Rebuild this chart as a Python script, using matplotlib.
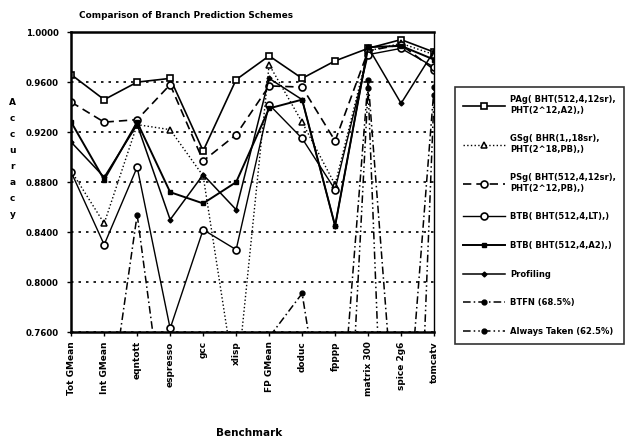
import matplotlib
matplotlib.use("Agg")
import matplotlib.pyplot as plt

# benchmarks along the x axis
benchmarks = ["Tot GMean", "Int GMean", "eqntott", "espresso", "gcc", "xlisp",
              "FP GMean", "doduc", "fpppp", "matrix 300", "spice 2g6", "tomcatv"]

# accuracy of each scheme (values below 0.76 are cut off by the axis)
pag = [0.966, 0.946, 0.960, 0.963, 0.905, 0.962, 0.981, 0.963, 0.977, 0.987, 0.994, 0.984]
gsg = [0.889, 0.847, 0.926, 0.922, 0.885, 0.715, 0.974, 0.928, 0.878, 0.985, 0.991, 0.982]
psg = [0.944, 0.928, 0.930, 0.958, 0.897, 0.918, 0.957, 0.956, 0.913, 0.985, 0.990, 0.970]
btb_lt = [0.888, 0.830, 0.892, 0.763, 0.842, 0.826, 0.942, 0.915, 0.874, 0.982, 0.987, 0.972]
btb_a2 = [0.928, 0.882, 0.928, 0.872, 0.863, 0.880, 0.939, 0.946, 0.845, 0.988, 0.989, 0.978]
profiling = [0.912, 0.884, 0.926, 0.850, 0.886, 0.858, 0.963, 0.946, 0.845, 0.988, 0.943, 0.985]
btfn = [0.685, 0.670, 0.854, 0.655, 0.620, 0.600, 0.756, 0.791, 0.627, 0.962, 0.620, 0.956]
always_taken = [0.625, 0.600, 0.600, 0.550, 0.600, 0.600, 0.600, 0.600, 0.450, 0.955, 0.280, 0.950]

labels = ["PAg( BHT(512,4,12sr),\nPHT(2^12,A2),)",
          "GSg( BHR(1,,18sr),\nPHT(2^18,PB),)",
          "PSg( BHT(512,4,12sr),\nPHT(2^12,PB),)",
          "BTB( BHT(512,4,LT),)",
          "BTB( BHT(512,4,A2),)",
          "Profiling",
          "BTFN (68.5%)",
          "Always Taken (62.5%)"]

yticks = [0.76, 0.80, 0.84, 0.88, 0.92, 0.96, 1.00]

fig = plt.figure(figsize=(6.3, 4.4), dpi=100)
ax = fig.add_axes([0.113, 0.245, 0.576, 0.682])

x = list(range(len(benchmarks)))
ax.plot(x, pag, color="black", lw=1.2, ls="-", marker="s", ms=5, mfc="white", mew=1.2, label=labels[0])
ax.plot(x, gsg, color="black", lw=1.0, ls=":", marker="^", ms=5, mfc="white", mew=1.1, label=labels[1])
ax.plot(x, psg, color="black", lw=1.2, ls=(0, (5, 3)), marker="o", ms=5, mfc="white", mew=1.2, label=labels[2])
ax.plot(x, btb_lt, color="black", lw=1.0, ls="-", marker="o", ms=5, mfc="white", mew=1.2, label=labels[3])
ax.plot(x, btb_a2, color="black", lw=1.4, ls="-", marker="s", ms=3.5, mfc="black", label=labels[4])
ax.plot(x, profiling, color="black", lw=1.1, ls="-", marker="D", ms=2.5, mfc="black", label=labels[5])
ax.plot(x, btfn, color="black", lw=1.1, ls=(0, (5, 2, 1, 2)), marker="o", ms=3.5, mfc="black", label=labels[6])
ax.plot(x, always_taken, color="black", lw=1.1, ls=(0, (5, 2, 1, 2, 1, 2)), marker="o", ms=3.5, mfc="black", label=labels[7])

ax.set_xlim(0, len(benchmarks) - 1)
ax.set_ylim(0.76, 1.0)
ax.set_yticks(yticks)
ax.set_yticklabels(["%.4f" % v for v in yticks], fontsize=6.2, fontweight="bold")
ax.set_xticks(x)
ax.set_xticklabels(benchmarks, rotation=90, fontsize=6.5, fontweight="bold", va="top")
ax.tick_params(length=3, width=1.0, direction="out")
ax.tick_params(axis="y", pad=6)
ax.yaxis.grid(True, ls=(0, (1.5, 3)), color="black", lw=1.2)
for side in ["left", "bottom", "top"]:
    ax.spines[side].set_linewidth(1.8)
ax.spines["right"].set_linewidth(1.0)

fig.text(0.125, 0.965, "Comparison of Branch Prediction Schemes", fontsize=6.4,
         fontweight="bold", ha="left", va="center")
fig.text(0.02, 0.64, "\n".join("Accuracy"), fontsize=6.5, fontweight="bold",
         ha="center", va="center", linespacing=2.0)
ax.set_xlabel("Benchmark", fontsize=7.5, fontweight="bold")
ax.xaxis.set_label_coords(0.49, -0.32)

leg = fig.legend(loc="upper left", bbox_to_anchor=(0.722, 0.802), frameon=True,
                 fancybox=False, edgecolor="black", handlelength=5.0, handletextpad=0.6,
                 labelspacing=2.35, borderpad=1.0, borderaxespad=0.0,
                 prop={"weight": "bold", "size": 6.0})
leg.get_frame().set_linewidth(1.2)

fig.savefig("out.png", dpi=100)
